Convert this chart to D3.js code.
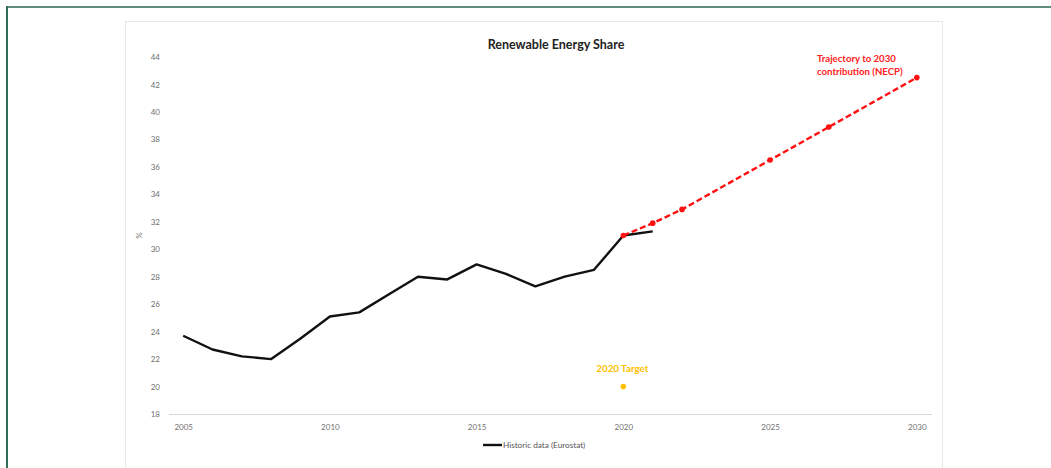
<!DOCTYPE html>
<html>
<head>
<meta charset="utf-8">
<script src="https://cdn.jsdelivr.net/npm/d3@7"></script>
<style>
  html, body { margin: 0; padding: 0; background: #fff; }
  svg { display: block; }
  text { font-family: Lato, "Open Sans", sans-serif; }
</style>
</head>
<body>
<svg id="chart" width="1051" height="468"></svg>
<script>
// ---- data ----
const histYears  = [2005, 2006, 2007, 2008, 2009, 2010, 2011, 2012, 2013, 2014, 2015, 2016, 2017, 2018, 2019, 2020, 2021];
const histValues = [23.7, 22.7, 22.2, 22.0, 23.5, 25.1, 25.4, 26.7, 28.0, 27.8, 28.9, 28.2, 27.3, 28.0, 28.5, 31.0, 31.3];
const trajYears  = [2020, 2021, 2022, 2025, 2027, 2030];
const trajValues = [31.0, 31.9, 32.9, 36.5, 38.9, 42.5];
const targetYear = [2020];
const targetValue = [20];
const xTicks = [2005, 2010, 2015, 2020, 2025, 2030];
const yTicks = [18, 20, 22, 24, 26, 28, 30, 32, 34, 36, 38, 40, 42, 44];
const title = "Renewable Energy Share";
const legendLabel = "Historic data (Eurostat)";
const targetLabel = "2020 Target";
const trajLabel = ["Trajectory to 2030", "contribution (NECP)"];
const yLabel = "%";

// ---- layout ----
const svg = d3.select("#chart");
const W = 1051, H = 468;

// outer frame
svg.append("line").attr("x1", 6).attr("x2", W).attr("y1", 7).attr("y2", 7)
  .attr("stroke", "#5f8c80").attr("stroke-width", 2);
svg.append("line").attr("x1", 7).attr("x2", 7).attr("y1", 6).attr("y2", H)
  .attr("stroke", "#2f6f58").attr("stroke-width", 2);

// chart area border
svg.append("rect").attr("x", 125.5).attr("y", 21.5).attr("width", 817).attr("height", 470)
  .attr("fill", "#fff").attr("stroke", "#e8e8e8").attr("stroke-width", 1);

const x = d3.scaleLinear().domain([2004.5, 2030.5]).range([168.5, 931.5]);
const y = d3.scaleLinear().domain([18, 44]).range([414, 57]);

// title
svg.append("text").attr("x", 556).attr("y", 49).attr("text-anchor", "middle")
  .attr("font-size", 12.5).attr("font-weight", "bold").attr("fill", "#222").text(title);

// x axis
const xAxis = d3.axisBottom(x).tickValues(xTicks).tickSize(0).tickPadding(10).tickFormat(d3.format("d"));
const gx = svg.append("g").attr("transform", `translate(0,${y(18)})`).call(xAxis);
gx.select(".domain").attr("stroke", "#d9d9d9").attr("stroke-width", 1);
gx.selectAll("text").attr("font-size", 8).attr("fill", "#707070").style("font-family", "Lato, 'Open Sans', sans-serif");

// y axis
const yAxis = d3.axisLeft(y).tickValues(yTicks).tickSize(0).tickPadding(0);
const gy = svg.append("g").attr("transform", `translate(160,0)`).call(yAxis);
gy.select(".domain").remove();
gy.selectAll("text").attr("font-size", 8).attr("fill", "#707070").style("font-family", "Lato, 'Open Sans', sans-serif");

// y label
svg.append("text").attr("transform", `translate(142,${y(31)}) rotate(-90)`)
  .attr("text-anchor", "middle").attr("font-size", 8).attr("fill", "#707070").text(yLabel);

// historic line
const hist = histYears.map((yr, i) => [yr, histValues[i]]);
svg.append("path").datum(hist)
  .attr("d", d3.line().x(d => x(d[0])).y(d => y(d[1])))
  .attr("fill", "none").attr("stroke", "#111").attr("stroke-width", 2.4)
  .attr("stroke-linejoin", "round");

// trajectory
const traj = trajYears.map((yr, i) => [yr, trajValues[i]]);
svg.append("path").datum(traj)
  .attr("d", d3.line().x(d => x(d[0])).y(d => y(d[1])))
  .attr("fill", "none").attr("stroke", "#ff1010").attr("stroke-width", 2.4)
  .attr("stroke-dasharray", "6,3");
svg.append("g").selectAll("circle").data(traj).join("circle")
  .attr("cx", d => x(d[0])).attr("cy", d => y(d[1])).attr("r", 2.8)
  .attr("fill", "#ff1010");

// trajectory label
const tl = svg.append("text").attr("x", 817).attr("y", 62)
  .attr("font-size", 9.6).attr("font-weight", "bold").attr("fill", "#ff2020");
trajLabel.forEach((t, i) => tl.append("tspan").attr("x", 817).attr("dy", i === 0 ? 0 : 13).text(t));

// target
svg.append("g").selectAll("circle").data(targetYear.map((yr, i) => [yr, targetValue[i]])).join("circle")
  .attr("cx", d => x(d[0])).attr("cy", d => y(d[1])).attr("r", 2.8).attr("fill", "#ffc000");
svg.append("text").attr("x", x(targetYear[0]) - 1).attr("y", 372).attr("text-anchor", "middle")
  .attr("font-size", 9.8).attr("font-weight", "bold").attr("fill", "#ffc000").text(targetLabel);

// legend
svg.append("line").attr("x1", 483).attr("x2", 502).attr("y1", 445).attr("y2", 445)
  .attr("stroke", "#111").attr("stroke-width", 2.4);
svg.append("text").attr("x", 503).attr("y", 448).attr("font-size", 8.2).attr("fill", "#555").text(legendLabel);
</script>
</body>
</html>
